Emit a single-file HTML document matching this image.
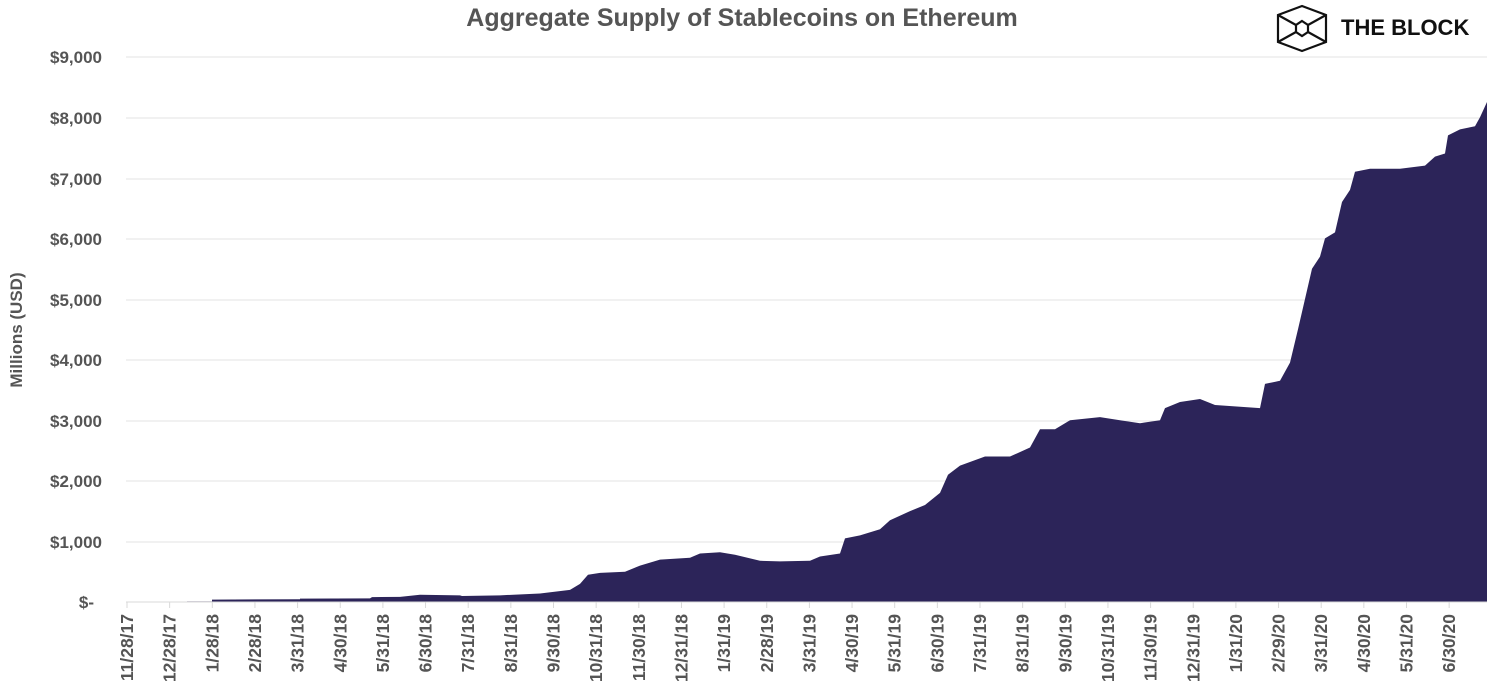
<!DOCTYPE html>
<html><head><meta charset="utf-8"><style>
body{margin:0;background:#fff;}
svg{display:block;font-family:"Liberation Sans",sans-serif;}
</style></head><body>
<svg width="1493" height="698" viewBox="0 0 1493 698">
<text x="742" y="26" text-anchor="middle" font-size="25" font-weight="bold" fill="#555">Aggregate Supply of Stablecoins on Ethereum</text>
<g stroke="#111" stroke-width="2.2" fill="none">
<polygon points="1302,6 1326,15 1326,42 1302,51 1278,42 1278,15"/>
<path d="M1278,15 L1296,25 M1326,15 L1308,25 M1278,42 L1296,32 M1326,42 L1308,32"/>
<polygon points="1302,21 1308,25 1308,32 1302,36 1296,32 1296,25"/>
</g>
<text x="1341" y="35" font-size="22" font-weight="bold" fill="#111">THE BLOCK</text>
<g stroke="#e3e3e3" stroke-width="1">
<line x1="126" x2="1487" y1="57" y2="57"/><line x1="126" x2="1487" y1="118" y2="118"/><line x1="126" x2="1487" y1="179" y2="179"/><line x1="126" x2="1487" y1="239" y2="239"/><line x1="126" x2="1487" y1="300" y2="300"/><line x1="126" x2="1487" y1="360" y2="360"/><line x1="126" x2="1487" y1="421" y2="421"/><line x1="126" x2="1487" y1="481" y2="481"/><line x1="126" x2="1487" y1="542" y2="542"/>
</g>
<g font-size="17" font-weight="bold" fill="#555" text-anchor="end">
<text x="102" y="63">$9,000</text><text x="102" y="124">$8,000</text><text x="102" y="185">$7,000</text><text x="102" y="245">$6,000</text><text x="102" y="306">$5,000</text><text x="102" y="366">$4,000</text><text x="102" y="427">$3,000</text><text x="102" y="487">$2,000</text><text x="102" y="548">$1,000</text><text x="94" y="608">$-</text>
</g>
<text transform="translate(22,330) rotate(-90)" text-anchor="middle" font-size="17" font-weight="bold" fill="#555">Millions (USD)</text>
<g transform="translate(0,602) scale(1,-0.0606)">
<polygon fill="#2c2459" points="187,0 187,10 212,10 212,40 300,45 300,55 370,60 372,80 400,85 420,120 460,110 462,100 500,110 540,140 570,200 580,300 588,450 600,480 625,500 640,600 660,700 690,730 700,800 720,820 735,780 760,680 780,670 810,680 820,750 840,800 845,1050 860,1100 880,1200 890,1350 910,1500 925,1600 940,1800 948,2100 960,2250 985,2400 1010,2400 1030,2550 1040,2850 1055,2850 1070,3000 1100,3050 1120,3000 1140,2950 1160,3000 1165,3200 1180,3300 1200,3350 1215,3250 1260,3200 1265,3600 1280,3650 1290,3950 1298,4500 1305,5000 1312,5500 1320,5700 1325,6000 1335,6100 1342,6600 1350,6800 1355,7100 1370,7150 1400,7150 1425,7200 1435,7350 1445,7400 1448,7700 1460,7800 1475,7850 1480,8000 1487,8250 1487,0"/>
</g>
<line x1="126" x2="1487" y1="602" y2="602" stroke="#d9d9d9"/>
<g id="ticks" stroke="#d9d9d9"></g>
<g id="labs" font-size="17.5" font-weight="bold" fill="#555"></g>
<script>
var L="11/28/17 12/28/17 1/28/18 2/28/18 3/31/18 4/30/18 5/31/18 6/30/18 7/31/18 8/31/18 9/30/18 10/31/18 11/30/18 12/31/18 1/31/19 2/28/19 3/31/19 4/30/19 5/31/19 6/30/19 7/31/19 8/31/19 9/30/19 10/31/19 11/30/19 12/31/19 1/31/20 2/29/20 3/31/20 4/30/20 5/31/20 6/30/20".split(" ");
var t=document.getElementById("ticks"),l=document.getElementById("labs"),ns="http://www.w3.org/2000/svg";
L.forEach(function(s,i){var x=127+i*42.65;
var ln=document.createElementNS(ns,"line");ln.setAttribute("x1",x);ln.setAttribute("x2",x);ln.setAttribute("y1",602);ln.setAttribute("y2",608);t.appendChild(ln);
var tx=document.createElementNS(ns,"text");tx.setAttribute("transform","translate("+(x+6)+",614) rotate(-90)");tx.setAttribute("text-anchor","end");tx.textContent=s;l.appendChild(tx);});
</script>
</svg>
</body></html>
